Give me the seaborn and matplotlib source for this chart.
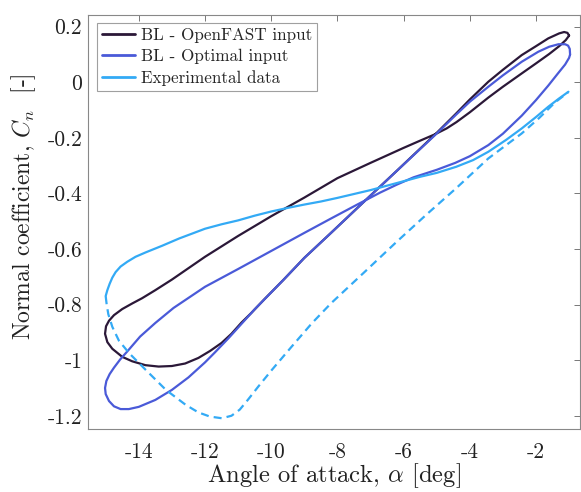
import matplotlib
matplotlib.use("Agg")
import matplotlib.pyplot as plt
import pandas as pd
import seaborn as sns

# BL model, OpenFAST input: closed loop traced from the tip at high alpha
OPENFAST_AOA = [-1.0, -1.05, -1.15, -1.3, -1.63, -2.0, -2.43, -3.0, -3.44, -4.0,
                -4.41, -5.05, -6.2, -7.2, -8.22, -9.0, -9.63, -10.2, -10.6, -10.9,
                -11.2, -11.5, -11.85, -12.2, -12.6, -13.0, -13.4, -13.8, -14.2, -14.5,
                -14.8, -14.95, -15.02, -14.99, -14.9, -14.75, -14.5, -14.2, -13.9, -13.5,
                -13.0, -12.0, -11.0, -10.0, -9.0, -8.0, -7.0, -6.0, -5.5, -5.05,
                -4.7, -4.4, -4.0, -3.44, -3.0, -2.43, -2.0, -1.6, -1.3, -1.1, -1.0]
OPENFAST_CN = [0.168, 0.178, 0.181, 0.176, 0.158, 0.13, 0.098, 0.045, 0.002, -0.062,
               -0.112, -0.188, -0.318, -0.43, -0.545, -0.632, -0.711, -0.78, -0.83, -0.865,
               -0.905, -0.938, -0.967, -0.992, -1.012, -1.021, -1.023, -1.018, -1.004, -0.988,
               -0.959, -0.935, -0.905, -0.878, -0.858, -0.838, -0.816, -0.796, -0.777, -0.748,
               -0.71, -0.628, -0.553, -0.482, -0.415, -0.345, -0.29, -0.236, -0.21, -0.187,
               -0.166, -0.143, -0.108, -0.055, -0.016, 0.032, 0.068, 0.102, 0.13, 0.152, 0.168]

# BL model, optimal input
OPTIMAL_AOA = [-0.97, -0.98, -1.03, -1.12, -1.32, -1.6, -1.93, -2.43, -3.0, -3.44,
               -4.0, -4.41, -5.05, -6.2, -7.2, -8.22, -9.0, -9.63, -10.5, -11.29,
               -11.7, -12.0, -12.5, -13.0, -13.5, -14.0, -14.3, -14.55, -14.75, -14.9,
               -15.0, -15.02, -14.98, -14.88, -14.75, -14.56, -14.3, -13.96, -13.5, -12.95,
               -12.0, -11.0, -10.0, -9.0, -8.19, -7.4, -6.71, -6.2, -5.7, -5.0,
               -4.44, -4.0, -3.44, -3.0, -2.43, -2.0, -1.63, -1.35, -1.12, -1.0, -0.97]
OPTIMAL_CN = [0.1, 0.12, 0.132, 0.137, 0.137, 0.128, 0.11, 0.074, 0.025, -0.016,
              -0.07, -0.116, -0.19, -0.318, -0.43, -0.545, -0.632, -0.711, -0.817, -0.921,
              -0.972, -1.008, -1.062, -1.107, -1.143, -1.168, -1.176, -1.176, -1.166, -1.147,
              -1.122, -1.1, -1.075, -1.05, -1.027, -0.997, -0.962, -0.915, -0.866, -0.812,
              -0.736, -0.672, -0.607, -0.542, -0.49, -0.44, -0.397, -0.368, -0.342, -0.315,
              -0.29, -0.266, -0.226, -0.185, -0.12, -0.064, -0.012, 0.03, 0.064, 0.088, 0.1]

# Experimental data: upper branch (solid) and lower branch (dashed)
EXP_UP_AOA = [-15.0, -14.95, -14.88, -14.8, -14.7, -14.55, -14.35, -14.1, -13.79, -13.29,
              -12.78, -12.4, -12.0, -11.5, -11.0, -10.5, -10.0, -9.5, -9.0, -8.5,
              -8.0, -7.5, -7.0, -6.5, -6.0, -5.5, -5.0, -4.41, -3.9, -3.44,
              -2.9, -2.43, -2.0, -1.63, -1.3, -1.02]
EXP_UP_CN = [-0.769, -0.748, -0.725, -0.703, -0.683, -0.663, -0.646, -0.628, -0.612, -0.588,
             -0.562, -0.545, -0.527, -0.511, -0.497, -0.48, -0.465, -0.452, -0.44, -0.429,
             -0.416, -0.402, -0.388, -0.372, -0.356, -0.34, -0.326, -0.304, -0.28, -0.25,
             -0.207, -0.166, -0.125, -0.088, -0.058, -0.034]
EXP_DN_AOA = [-15.0, -14.97, -14.92, -14.8, -14.6, -14.29, -13.79, -13.18, -12.58, -12.2,
              -11.85, -11.49, -11.2, -10.95, -10.7, -10.39, -9.98, -9.38, -8.77, -8.19,
              -7.2, -6.21, -5.3, -4.41, -3.44, -2.43, -1.9, -1.42, -1.03]
EXP_DN_CN = [-0.77, -0.8, -0.835, -0.88, -0.93, -0.975, -1.035, -1.107, -1.161, -1.188,
             -1.203, -1.209, -1.2, -1.178, -1.142, -1.095, -1.035, -0.951, -0.867, -0.795,
             -0.685, -0.574, -0.475, -0.381, -0.274, -0.184, -0.128, -0.072, -0.036]

X_TICKS = [-14, -12, -10, -8, -6, -4, -2]
X_TICK_LABELS = ["-14", "-12", "-10", "-8", "-6", "-4", "-2"]
Y_TICKS = [-1.2, -1.0, -0.8, -0.6, -0.4, -0.2, 0.0, 0.2]
Y_TICK_LABELS = ["-1.2", "-1", "-0.8", "-0.6", "-0.4", "-0.2", "0", "0.2"]

COLORS = {
    "BL - OpenFAST input": "#2b1838",
    "BL - Optimal input": "#4a5ad8",
    "Experimental data": "#33aaf5",
}

sns.set_style("white")
plt.rcParams["font.family"] = ["cmr10", "DejaVu Serif"]
plt.rcParams["mathtext.fontset"] = "cm"
plt.rcParams["axes.unicode_minus"] = False
plt.rcParams["axes.formatter.use_mathtext"] = True

fig = plt.figure(figsize=(5.81, 4.92), dpi=100)
ax = fig.add_axes([0.1523, 0.129, 0.8468, 0.8404])

op = pd.DataFrame({"aoa": OPENFAST_AOA, "cn": OPENFAST_CN})
opt = pd.DataFrame({"aoa": OPTIMAL_AOA, "cn": OPTIMAL_CN})
up = pd.DataFrame({"aoa": EXP_UP_AOA, "cn": EXP_UP_CN})
dn = pd.DataFrame({"aoa": EXP_DN_AOA, "cn": EXP_DN_CN})

lw = 1.6
sns.lineplot(data=op, x="aoa", y="cn", sort=False, estimator=None, ax=ax,
             color=COLORS["BL - OpenFAST input"], linewidth=lw, label="BL - OpenFAST input")
sns.lineplot(data=opt, x="aoa", y="cn", sort=False, estimator=None, ax=ax,
             color=COLORS["BL - Optimal input"], linewidth=lw, label="BL - Optimal input")
sns.lineplot(data=up, x="aoa", y="cn", sort=False, estimator=None, ax=ax,
             color=COLORS["Experimental data"], linewidth=lw, label="Experimental data")
sns.lineplot(data=dn, x="aoa", y="cn", sort=False, estimator=None, ax=ax,
             color=COLORS["Experimental data"], linewidth=lw, linestyle=(0, (3.6, 2.3)))

ax.set_xlim(-15.52, -0.656)
ax.set_ylim(-1.246, 0.242)
ax.set_xticks(X_TICKS)
ax.set_xticklabels(X_TICK_LABELS)
ax.set_yticks(Y_TICKS)
ax.set_yticklabels(Y_TICK_LABELS)
ax.tick_params(direction="in", length=4, width=0.7, color="#777777",
               top=True, right=True, labelsize=15.5, labelcolor="#222222")
ax.tick_params(axis="x", pad=10.0)
ax.tick_params(axis="y", pad=4.5)
for spine in ax.spines.values():
    spine.set_color("#888888")
    spine.set_linewidth(0.8)

ax.set_xlabel(r"Angle of attack, $\alpha$ [deg]", fontsize=17.7, labelpad=-0.5, color="#222222")
ax.set_ylabel(r"Normal coefficient, $C_n$  [-]", fontsize=17, color="#222222")
ax.yaxis.set_label_coords(-0.1026, 0.5357)

leg = ax.legend(loc="upper left", bbox_to_anchor=(0.018, 0.98), borderaxespad=0,
                fontsize=12.3, frameon=True, fancybox=False, handlelength=1.95,
                handletextpad=0.3, labelspacing=0.33, borderpad=0.28)
leg.get_frame().set_edgecolor("#888888")
leg.get_frame().set_linewidth(0.8)
for line in leg.get_lines():
    line.set_linewidth(2.0)

fig.savefig("out.png", dpi=100)
